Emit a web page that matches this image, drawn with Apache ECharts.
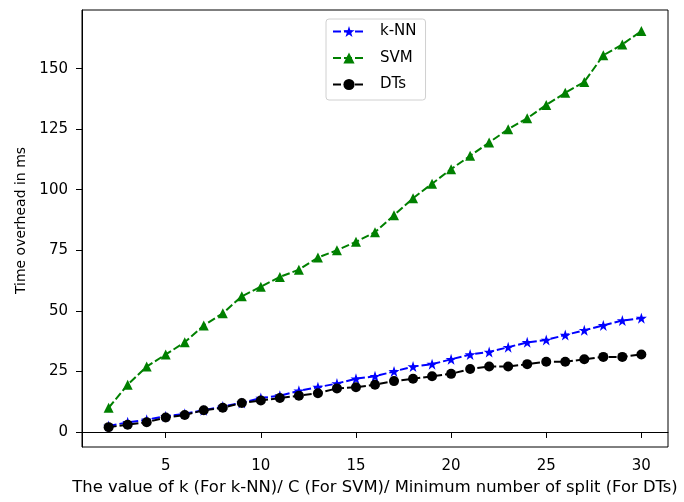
<!DOCTYPE html>
<html>
<head>
<meta charset="utf-8">
<script src="https://cdn.jsdelivr.net/npm/echarts@6/dist/echarts.min.js"></script>
<style>
  html, body { margin: 0; padding: 0; background: #fff; }
  #main { width: 684px; height: 502px; }
</style>
</head>
<body>
<div id="main"></div>
<script>
// x values (k / C / min split)
var kValues = [2, 3, 4, 5, 6, 7, 8, 9, 10, 11, 12, 13, 14, 15, 16, 17, 18, 19, 20, 21, 22, 23, 24, 25, 26, 27, 28, 29, 30];
// time overhead in ms
var knn = [2.5, 4, 5, 6.5, 7.5, 9, 10.5, 12, 14, 15, 17, 18.5, 20, 22, 23, 25, 27, 28, 30, 32, 33, 35, 37, 38, 40, 42, 44, 46, 47];
var svm = [10, 19.5, 27, 32, 37, 44, 49, 56, 60, 64, 67, 72, 75, 78.5, 82.5, 89.5, 96.5, 102.5, 108.5, 114, 119.5, 125, 129.5, 135, 140, 144.5, 155.5, 160, 165.5];
var dts = [2, 3, 4, 6, 7, 9, 10, 12, 13, 14, 15, 16, 18, 18.5, 19.5, 21, 22, 23, 24, 26, 27, 27, 28, 29, 29, 30, 31, 31, 32];
var xTicks = [5, 10, 15, 20, 25, 30];
var yTicks = [0, 25, 50, 75, 100, 125, 150];

function pairs(ys) {
  return kValues.map(function (x, i) { return [x, ys[i]]; });
}

var font = 'DejaVu Sans';
var mychart = echarts.init(document.getElementById('main'));

var option = {
  animation: false,
  textStyle: { fontFamily: font },
  grid: {
    left: 82, right: 16, top: 10, bottom: 55,
    show: true, borderColor: '#000', borderWidth: 1, backgroundColor: '#fff'
  },
  legend: {
    orient: 'vertical',
    left: 326, top: 19,
    padding: [5, 9, 8, 6],
    itemWidth: 32, itemHeight: 14, itemGap: 11.5,
    borderColor: '#d0d0d0', borderWidth: 1, borderRadius: 3,
    backgroundColor: '#fff',
    textStyle: { fontFamily: font, fontSize: 15, color: '#000', padding: [0, 0, 0, 10] },
    data: ['k-NN', 'SVM', 'DTs']
  },
  xAxis: {
    type: 'value',
    min: 0.6, max: 31.4,
    name: 'The value of k (For k-NN)/ C (For SVM)/ Minimum number of split (For DTs)',
    nameLocation: 'middle', nameGap: 33,
    nameTextStyle: { fontFamily: font, fontSize: 16.4, color: '#000' },
    axisLine: { show: true, lineStyle: { color: '#000', width: 1 } },
    axisTick: { show: true, length: 6, lineStyle: { color: '#000' }, customValues: xTicks },
    axisLabel: { fontFamily: font, fontSize: 15, color: '#000', margin: 12, customValues: xTicks },
    splitLine: { show: false }
  },
  yAxis: {
    type: 'value',
    min: -6.2, max: 174.2,
    name: 'Time overhead in ms',
    nameLocation: 'middle', nameGap: 54,
    nameTextStyle: { fontFamily: font, fontSize: 14, color: '#000', padding: [0, 0, 0, 16] },
    axisLine: { show: true, lineStyle: { color: '#000', width: 1 } },
    axisTick: { show: true, length: 6, lineStyle: { color: '#000' }, customValues: yTicks },
    axisLabel: { fontFamily: font, fontSize: 15, color: '#000', margin: 14, customValues: yTicks },
    splitLine: { show: false }
  },
  series: [
    {
      name: 'k-NN', type: 'line',
      data: pairs(knn),
      symbol: 'path://M50,0 L61.8,35.1 L98.8,35.1 L68.9,56.9 L80.3,91.9 L50,70.3 L19.7,91.9 L31.1,56.9 L1.2,35.1 L38.2,35.1 Z',
      symbolSize: 11,
      itemStyle: { color: '#0000ff' },
      lineStyle: { color: '#0000ff', width: 2, type: [8, 3] }
    },
    {
      name: 'SVM', type: 'line',
      data: pairs(svm),
      symbol: 'triangle', symbolSize: 10,
      itemStyle: { color: '#008000' },
      lineStyle: { color: '#008000', width: 2, type: [8, 3] }
    },
    {
      name: 'DTs', type: 'line',
      data: pairs(dts),
      symbol: 'circle', symbolSize: 10,
      itemStyle: { color: '#000' },
      lineStyle: { color: '#000', width: 2, type: [8, 3] }
    }
  ]
};

mychart.setOption(option);
</script>
</body>
</html>
